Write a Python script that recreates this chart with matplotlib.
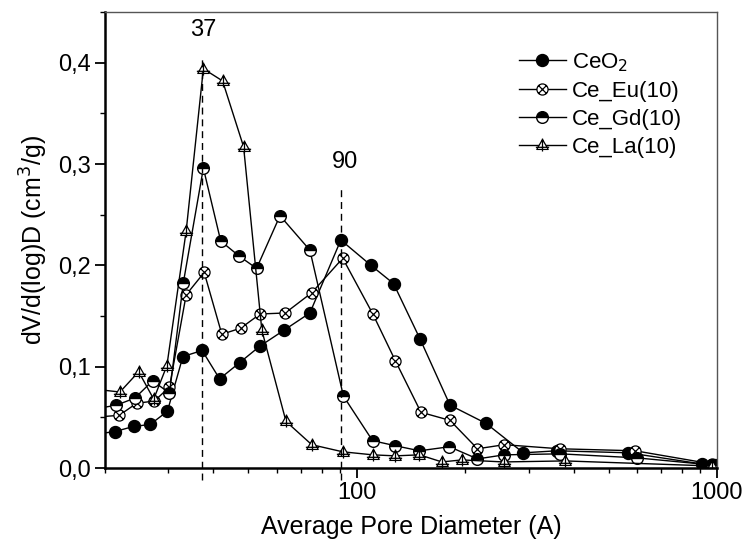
import numpy as np
import matplotlib
matplotlib.use('Agg')
import matplotlib.pyplot as plt
from matplotlib.path import Path
from matplotlib.ticker import MultipleLocator, FuncFormatter, LogLocator, NullFormatter

# Data (pore diameter in A, dV/d(log)D in cm3/g)
ceo2_x = [18.5, 21.3, 24.0, 26.7, 29.8, 32.9, 37.2, 41.6, 47.3, 53.7, 62.8, 74.1,
          90.3, 109.5, 126.5, 150, 181.5, 228.6, 290, 359.6, 568, 908, 988]
ceo2_y = [0.033, 0.036, 0.041, 0.043, 0.056, 0.110, 0.116, 0.088, 0.104, 0.120, 0.136, 0.153,
          0.225, 0.200, 0.182, 0.127, 0.062, 0.044, 0.015, 0.017, 0.015, 0.004, 0.003]

eu_x = [18.5, 21.9, 24.5, 27.4, 30.2, 33.6, 37.7, 42.2, 47.6, 53.9, 63.3, 75.0,
        91.4, 110.8, 127.9, 150.7, 181.5, 216.3, 256.6, 365.6, 593, 968]
eu_y = [0.050, 0.052, 0.064, 0.066, 0.080, 0.171, 0.193, 0.132, 0.138, 0.152, 0.153, 0.173,
        0.207, 0.152, 0.106, 0.055, 0.047, 0.019, 0.023, 0.019, 0.017, 0.004]

gd_x = [18.5, 21.5, 24.2, 27.1, 30.2, 33.0, 37.5, 41.9, 47.2, 52.7, 61.2, 74.1,
        91.8, 110.6, 127.9, 149.3, 180.8, 216.3, 256.6, 367, 600, 968]
gd_y = [0.058, 0.062, 0.069, 0.086, 0.074, 0.183, 0.296, 0.224, 0.209, 0.197, 0.249, 0.215,
        0.071, 0.027, 0.022, 0.017, 0.021, 0.009, 0.013, 0.014, 0.010, 0.003]

la_x = [18.5, 22.0, 24.8, 27.3, 29.7, 33.6, 37.5, 42.4, 48.5, 54.5, 63.6, 75.0,
        91.4, 110.8, 127.9, 149.3, 172.3, 195.8, 255.5, 379, 968]
la_y = [0.078, 0.075, 0.095, 0.068, 0.101, 0.234, 0.394, 0.382, 0.317, 0.136, 0.046, 0.023,
        0.016, 0.013, 0.012, 0.013, 0.006, 0.008, 0.006, 0.007, 0.002]

peaks = [37.2, 90.5]
peak_labels = ['37', '90']
peak_tops = [0.405, 0.276]
label_x = [37.5, 92.5]
label_y = [0.432, 0.302]

plt.rcParams['font.family'] = ['Liberation Sans', 'DejaVu Sans']

# markers: crossed circle and triangle with a cross
M, L = Path.MOVETO, Path.LINETO
xcross = Path([(-0.71, -0.71), (0.71, 0.71), (-0.71, 0.71), (0.71, -0.71)], [M, L, M, L])
crossed_circle = Path.make_compound_path(Path.unit_circle(), xcross)
tri = Path([(0, 1), (-0.95, -0.65), (0.95, -0.65), (0, 1)], [M, L, L, Path.CLOSEPOLY])
tri_cross = Path.make_compound_path(
    tri,
    Path([(0, 1.15), (0, -1.0)], [M, L]),
    Path([(-1.1, -0.3), (1.1, -0.3)], [M, L]))

fig = plt.figure(figsize=(7.47, 5.54), dpi=100)
ax = fig.add_axes([0.1406, 0.1552, 0.8192, 0.8231])

lw = 1.0
ax.plot(ceo2_x, ceo2_y, '-', color='black', lw=lw, marker='o', ms=8.6,
        mfc='black', mec='black', label='CeO$_2$')
ax.plot(eu_x, eu_y, '-', color='black', lw=lw, marker=crossed_circle, ms=8,
        mfc='white', mec='black', mew=0.9, label='Ce_Eu(10)')
ax.plot(gd_x, gd_y, '-', color='black', lw=lw, marker='o', ms=8.4, fillstyle='top',
        mfc='black', mfcalt='white', mec='black', mew=1.0, label='Ce_Gd(10)')
ax.plot(la_x, la_y, '-', color='black', lw=lw, marker=tri_cross, ms=10,
        mfc='white', mec='black', mew=0.9, label='Ce_La(10)')

for xp, lab, top, lx, ly in zip(peaks, peak_labels, peak_tops, label_x, label_y):
    ax.plot([xp, xp], [-0.012, top], color='black', lw=1.0, dashes=(5, 3.5), clip_on=False)
    ax.text(lx, ly, lab, ha='center', va='center', fontsize=17)

ax.set_xscale('log')
ax.set_xlim(20, 1000)
ax.set_ylim(0, 0.45)
ax.xaxis.set_major_locator(LogLocator(base=10))
ax.xaxis.set_minor_locator(LogLocator(base=10, subs=np.arange(2, 10)))
ax.xaxis.set_major_formatter(FuncFormatter(lambda v, p: f'{v:g}'))
ax.xaxis.set_minor_formatter(NullFormatter())
ax.yaxis.set_major_locator(MultipleLocator(0.1))
ax.yaxis.set_minor_locator(MultipleLocator(0.05))
ax.yaxis.set_major_formatter(FuncFormatter(lambda v, p: f'{v:.1f}'.replace('.', ',')))

ax.tick_params(which='both', direction='out', top=False, right=False, labelsize=17)
ax.tick_params(which='major', length=7, width=1.3, pad=3)
ax.tick_params(which='minor', length=3.5, width=1.0)

for s in ['left', 'bottom']:
    ax.spines[s].set_linewidth(1.8)
for s in ['top', 'right']:
    ax.spines[s].set_linewidth(1.0)
    ax.spines[s].set_color('#555555')

ax.set_xlabel('Average Pore Diameter (A)', fontsize=18, labelpad=8)
ax.set_ylabel('dV/d(log)D (cm$^3$/g)', fontsize=18, labelpad=6)

ax.legend(loc='upper left', bbox_to_anchor=(519 / 747, 1 - 51 / 554),
          bbox_transform=fig.transFigure, frameon=False, fontsize=16,
          numpoints=1, handlelength=2.1, handletextpad=0.3, labelspacing=0.32,
          borderpad=0, borderaxespad=0)

fig.savefig('out.png', dpi=100)
